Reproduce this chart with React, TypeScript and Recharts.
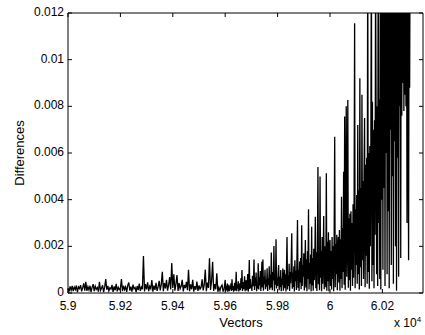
import { LineChart, Line, XAxis, YAxis } from "recharts";

// Differences per vector, in units of 1e-4.
// 5.90–5.96 (x10^4): one value every 4 vectors
const seg5900 = [
  2.1, 0.6, 2.8, 1.2, 3.0, 0.8, 2.5, 1.5, 3.2, 0.4,
  2.6, 1.9, 3.4, 0.7, 2.2, 4.1, 1.0, 4.8, 0.9, 2.7,
  1.3, 3.1, 0.5, 2.4, 3.8, 0.8, 2.9, 1.6, 2.3, 0.6,
  4.8, 1.1, 2.0, 3.3, 0.4, 2.5, 6.0, 1.4, 3.0, 0.9,
  2.2, 1.7, 3.5, 0.5, 2.8, 1.2, 3.9, 0.7, 2.4, 1.5,
];
const seg5920 = [
  2.0, 6.0, 0.8, 3.1, 1.4, 2.6, 0.5, 3.3, 4.5, 1.0,
  2.7, 0.6, 3.6, 1.8, 2.4, 0.4, 3.0, 1.2, 4.0, 0.9,
  2.5, 1.6, 15.9, 0.7, 3.8, 1.5, 4.6, 0.8, 2.9, 1.9,
  5.5, 0.6, 3.2, 1.3, 4.4, 0.9, 2.6, 5.2, 1.1, 3.7,
  9.1, 0.8, 4.3, 2.0, 5.6, 1.0, 3.4, 6.8, 1.5, 12.8,
];
const seg5940 = [
  2.2, 8.0, 1.0, 3.9, 7.7, 0.9, 4.2, 1.8, 3.0, 5.6,
  0.7, 3.5, 2.1, 4.8, 1.2, 9.9, 0.8, 3.7, 1.6, 5.6,
  0.6, 2.9, 1.4, 4.9, 0.9, 3.2, 1.7, 2.5, 5.9, 1.1,
  3.6, 10.0, 0.8, 4.5, 2.2, 14.9, 1.3, 5.1, 13.4, 0.9,
  3.8, 1.6, 8.4, 0.5, 2.3, 1.0, 2.7, 3.4, 0.6, 1.9,
];
// 5.96 onwards: one value every 2 vectors
const seg5960 = [
  5.6, 0.7, 3.1, 1.2, 4.0, 0.6, 2.2, 3.5, 0.8, 2.9,
  1.5, 4.2, 0.9, 5.9, 1.3, 3.0, 0.6, 2.4, 4.4, 1.0,
  2.8, 9.1, 0.8, 3.6, 1.9, 5.0, 0.7, 2.6, 4.1, 1.2,
  6.3, 2.0, 9.9, 0.9, 4.7, 1.6, 3.3, 7.2, 0.8, 2.5,
  5.5, 1.1, 3.9, 8.1, 0.6, 4.6, 14.1, 1.7, 6.0, 2.2,
  3.4, 0.9, 7.4, 2.8, 5.2, 14.4, 1.3, 6.6, 3.0, 8.8,
  0.8, 4.1, 2.0, 12.7, 1.5, 6.7, 3.2, 9.4, 0.9, 5.0,
  13.4, 2.4, 14.4, 1.0, 7.0, 3.8, 10.0, 1.6, 5.8, 2.7,
  10.6, 0.9, 6.2, 3.5, 11.5, 1.4, 7.8, 2.3, 17.3, 4.6,
  1.2, 9.0, 5.4, 20.1, 0.8, 8.2, 3.6, 23.0, 1.9, 6.5,
];
const seg5980 = [
  3.0, 8.5, 12.0, 1.2, 7.0, 2.5, 9.8, 0.8, 6.2, 3.5,
  10.5, 1.0, 5.5, 9.9, 2.0, 8.0, 0.6, 11.0, 24.0, 1.5,
  7.5, 3.0, 12.5, 0.9, 9.0, 4.2, 13.0, 25.6, 1.8, 8.8,
  2.6, 11.5, 0.7, 14.0, 5.0, 9.5, 1.3, 16.0, 31.3, 2.2,
  10.0, 0.9, 13.5, 4.5, 15.0, 1.6, 29.0, 3.0, 12.0, 7.0,
  17.0, 1.1, 9.0, 22.7, 2.4, 14.5, 0.8, 18.0, 6.0, 35.9,
  1.5, 12.8, 4.0, 16.5, 0.7, 28.4, 3.2, 15.0, 1.0, 19.0,
  5.5, 13.0, 32.7, 2.0, 17.5, 0.9, 21.0, 54.0, 3.8, 14.0,
  1.2, 49.9, 6.5, 18.0, 0.8, 24.0, 4.0, 16.0, 33.0, 1.6,
  20.0, 7.0, 2.5, 51.3, 1.0, 22.0, 5.0, 26.0, 0.8, 19.0,
];
const seg6000 = [
  22.7, 3.0, 18.0, 1.5, 24.0, 6.0, 20.0, 0.8, 26.0, 67.0,
  2.5, 21.0, 8.0, 25.0, 1.2, 19.0, 24.0, 4.5, 27.0, 1.0,
  23.0, 6.0, 41.3, 2.0, 28.0, 9.0, 52.0, 3.5, 75.6, 1.4,
  30.0, 80.0, 7.0, 26.0, 82.7, 2.2, 32.0, 5.5, 34.0, 1.0,
  35.0, 10.0, 30.0, 3.0, 38.0, 6.5, 40.0, 115.6, 2.0, 36.0,
  12.0, 42.0, 4.0, 72.0, 8.0, 44.0, 1.5, 92.0, 11.0, 45.0,
  3.0, 85.0, 14.0, 48.0, 6.0, 52.0, 75.0, 2.5, 55.0, 16.0,
  58.0, 4.0, 150.0, 9.0, 60.0, 1.8, 63.0, 20.0, 66.0, 150.0,
  5.0, 82.0, 12.0, 70.0, 2.0, 74.0, 25.0, 140.0, 78.0, 8.0,
  80.0, 3.0, 160.0, 30.0, 83.0, 6.0, 150.0, 1.5, 145.0, 40.0,
];
const seg6020 = [
  150.0, 10.0, 165.0, 45.0, 140.0, 3.0, 155.0, 60.0, 170.0, 8.0,
  150.0, 35.0, 160.0, 2.0, 145.0, 70.0, 155.0, 12.0, 165.0, 50.0,
  140.0, 4.0, 150.0, 65.0, 170.0, 20.0, 155.0, 1.0, 145.0, 58.0,
  160.0, 7.0, 150.0, 80.0, 140.0, 15.0, 165.0, 76.0, 150.0, 90.0,
  160.0, 78.0, 145.0, 85.0, 155.0, 80.0, 150.0, 30.0, 140.0, 82.0,
  14.0, 150.0, 88.0, 160.0, 140.0,
];

const xTicks = [59000, 59200, 59400, 59600, 59800, 60000, 60200];
const yTicks = [0, 0.002, 0.004, 0.006, 0.008, 0.01, 0.012];

const coarse = [...seg5900, ...seg5920, ...seg5940];
const fine = [...seg5960, ...seg5980, ...seg6000, ...seg6020];
const data = [
  ...coarse.map((v, i) => ({ x: 59000 + 4 * i, y: v * 1e-4 })),
  ...fine.map((v, i) => ({ x: 59600 + 2 * i, y: v * 1e-4 })),
];

const FONT = "'Liberation Sans', Arial, Helvetica, sans-serif";
const TL = 4;

const fmtX = (v: number) => String(+(v / 1e4).toFixed(2));

const BottomTick = ({ x, y, payload }: any) => (
  <g>
    <line x1={x} y1={y} x2={x} y2={y - TL} stroke="#000" />
    <text x={x} y={y + 17} textAnchor="middle" fontSize={12} fontFamily={FONT} fill="#000">
      {fmtX(payload.value)}
    </text>
  </g>
);
const TopTick = ({ x, y }: any) => <line x1={x} y1={y} x2={x} y2={y + TL} stroke="#000" />;
const LeftTick = ({ x, y, payload }: any) => (
  <g>
    <line x1={x} y1={y} x2={x + TL} y2={y} stroke="#000" />
    <text x={x - 4} y={y + 3} textAnchor="end" fontSize={12} fontFamily={FONT} fill="#000">
      {String(payload.value)}
    </text>
  </g>
);
const RightTick = ({ x, y }: any) => <line x1={x} y1={y} x2={x - TL} y2={y} stroke="#000" />;

export default function App() {
  return (
    <div style={{ position: "absolute", left: 0, top: 0, width: 425, height: 335, background: "#fff" }}>
      <LineChart width={425} height={335} data={data} margin={{ top: 12, right: 1, bottom: 0, left: 0 }}>
        <XAxis
          xAxisId="b"
          dataKey="x"
          type="number"
          domain={[59000, 60355]}
          ticks={xTicks}
          height={42}
          tickSize={0}
          tickMargin={0}
          stroke="#000"
          tick={<BottomTick />}
          interval={0}
        />
        <XAxis
          xAxisId="t"
          orientation="top"
          dataKey="x"
          type="number"
          domain={[59000, 60355]}
          ticks={xTicks}
          height={1}
          tickSize={0}
          tickMargin={0}
          stroke="#000"
          tick={<TopTick />}
          interval={0}
        />
        <YAxis
          yAxisId="l"
          type="number"
          domain={[0, 0.012]}
          allowDataOverflow
          ticks={yTicks}
          width={68}
          tickSize={0}
          tickMargin={0}
          stroke="#000"
          tick={<LeftTick />}
          interval={0}
        />
        <YAxis
          yAxisId="r"
          orientation="right"
          type="number"
          domain={[0, 0.012]}
          allowDataOverflow
          ticks={yTicks}
          width={1}
          tickSize={0}
          tickMargin={0}
          stroke="#000"
          tick={<RightTick />}
          interval={0}
        />
        <Line
          xAxisId="b"
          yAxisId="l"
          dataKey="y"
          type="linear"
          stroke="#000"
          strokeWidth={1.3}
          dot={false}
          isAnimationActive={false}
        />
      </LineChart>
      <svg width={425} height={335} style={{ position: "absolute", left: 0, top: 0, pointerEvents: "none" }}>
        <text
          transform="translate(24,153) rotate(-90)"
          textAnchor="middle"
          fontSize={13}
          fontFamily={FONT}
          fill="#000"
        >
          Differences
        </text>
        <text x={241} y={327} textAnchor="middle" fontSize={13} fontFamily={FONT} fill="#000">
          Vectors
        </text>
        <text x={394} y={327} fontSize={12} fontFamily={FONT} fill="#000">
          x 10
          <tspan dy={-5} fontSize={8}>
            4
          </tspan>
        </text>
      </svg>
    </div>
  );
}
